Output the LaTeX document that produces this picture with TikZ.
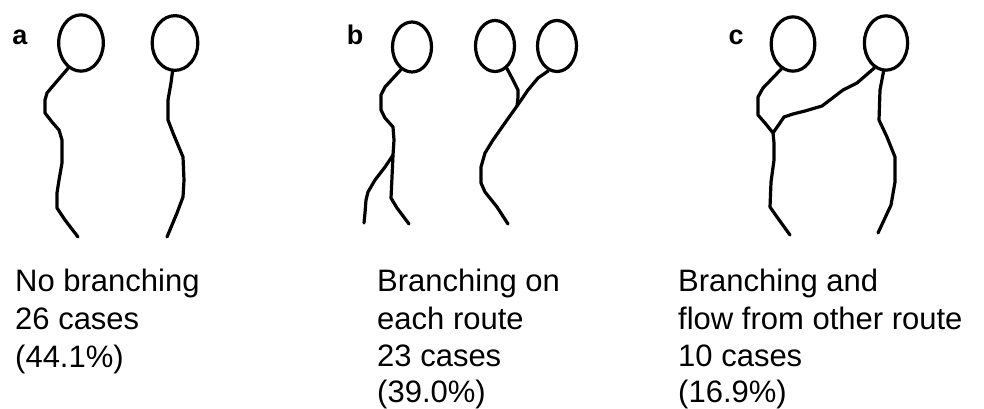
\documentclass[tikz,border=0pt]{standalone}
\usepackage{fontspec}
\setmainfont{Liberation Sans}
\usetikzlibrary{shapes.geometric}
\begin{document}
\begin{tikzpicture}[x=1pt,y=-1pt,
  route/.style={line width=3.2pt, line join=round, line cap=round},
  pool/.style={draw, ellipse, line width=3.2pt, inner sep=0pt},
  caption/.style={anchor=base west, inner sep=0pt, font=\fontsize{31}{38}\selectfont},
  tag/.style={anchor=base, inner sep=0pt, font=\fontsize{27}{30}\selectfont\bfseries}]
\useasboundingbox (0,0) rectangle (984,409);

% ---------- panel a: two separate routes ----------
\node[tag] (ta) at (20,45) {a};
\node[pool, minimum width=44.7pt, minimum height=56.3pt] (a1) at (81,43) {};
\node[pool, minimum width=45.7pt, minimum height=54.7pt] (a2) at (175,43) {};
\draw[route] (a1.243) -- (52,87) -- (47,93) -- (45,100) -- (45,113) -- (52,122)
  -- (59,130) -- (62,140) -- (62,163) -- (59,180) -- (57,193) -- (57,208)
  -- (65,220) -- (78,237);
\draw[route] (a2.265) -- (171,83) -- (168,100) -- (168,120) -- (173,133)
  -- (183,157) -- (184,180) -- (183,197) -- (177,213) -- (167,237);

% ---------- panel b: branching on each route ----------
\node[tag] (tb) at (355,45) {b};
\node[pool, minimum width=39pt, minimum height=50pt] (b1) at (412,47) {};
\node[pool, minimum width=39pt, minimum height=51pt] (b2) at (495,46) {};
\node[pool, minimum width=39pt, minimum height=51pt] (b3) at (557,46) {};
\coordinate (bj) at (393,155);
\coordinate (bk) at (517,106);
\draw[route] (b1.244) -- (385,87) -- (381,95) -- (381,110) -- (385,118)
  -- (393,127) -- (394,140) -- (bj) -- (392,177) -- (391,198) -- (397,208)
  -- (409,224);
\draw[route] (bj) -- (385,167) -- (375,180) -- (368,192) -- (366,200)
  -- (365,213) -- (364,223);
\draw[route] (b2.298) -- (513,80) -- (518,90) -- (518,97) -- (bk);
\draw[route] (b3.251) -- (538,78) -- (528,90) -- (bk) -- (507,120)
  -- (493,140) -- (485,153) -- (481,167) -- (481,183) -- (485,192)
  -- (497,207) -- (508,224);

% ---------- panel c: branching and inflow from the other route ----------
\node[tag] (tc) at (736,45) {c};
\node[pool, minimum width=43.7pt, minimum height=54.3pt] (c1) at (793,44) {};
\node[pool, minimum width=43.3pt, minimum height=54.3pt] (c2) at (886,43) {};
\coordinate (cj) at (773,133);
\draw[route] (c1.245) -- (763,88) -- (758,97) -- (758,115) -- (765,123)
  -- (cj) -- (774,143) -- (774,160) -- (771,182) -- (770,207) -- (777,217)
  -- (790,235);
\draw[route] (cj) -- (784,117) -- (793,114) -- (805,111) -- (822,106)
  -- (843,90) -- (857,83) -- (c2.245);
\draw[route] (c2.265) -- (880,90) -- (879,120) -- (887,137) -- (895,157)
  -- (895,182) -- (891,205) -- (878,233);

% ---------- captions ----------
\node[caption] (la1) at (15,291) {No branching};
\node[caption] (la2) at (15,329) {26 cases};
\node[caption] (la3) at (15,367) {(44.1\%)};

\node[caption] (lb1) at (377,291) {Branching on};
\node[caption] (lb2) at (377,329) {each route};
\node[caption] (lb3) at (377,366) {23 cases};
\node[caption] (lb4) at (377,402) {(39.0\%)};

\node[caption] (lc1) at (678,291) {Branching and};
\node[caption] (lc2) at (678,329) {flow from other route};
\node[caption] (lc3) at (678,366) {10 cases};
\node[caption] (lc4) at (678,402) {(16.9\%)};
\end{tikzpicture}
\end{document}
